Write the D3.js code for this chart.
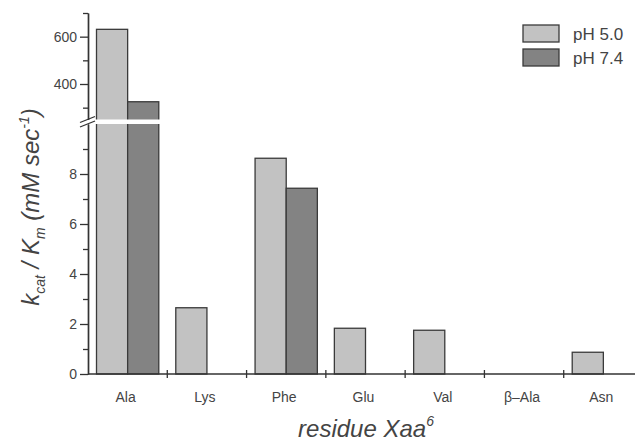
<!DOCTYPE html>
<html>
<head>
<meta charset="utf-8">
<script src="https://cdn.jsdelivr.net/npm/d3@7"></script>
<style>
  body { margin: 0; background: #fff; }
  text { font-family: "Liberation Sans", Arial, sans-serif; fill: #444; }
</style>
</head>
<body>
<script>
// data
var residues = ["Ala", "Lys", "Phe", "Glu", "Val", "\u03B2\u2013Ala", "Asn"];
var seriesNames = ["pH 5.0", "pH 7.4"];
var ph50 = [631, 2.65, 8.63, 1.83, 1.75, 0, 0.87];
var ph74 = [325, 0, 7.43, 0, 0, 0, 0];
var lowTicks = [0, 2, 4, 6, 8];
var lowMinor = [1, 3, 5, 7, 9];
var highTicks = [400, 600];
var highMinor = [300, 500, 700];

var colors = ["#c2c2c2", "#838383"];
var W = 635, H = 443;

var svg = d3.select("body").append("svg").attr("width", W).attr("height", H);

// scales, the y axis is broken between 10 and 250
var x0 = d3.scaleBand().domain(residues).range([88, 643]);
var x1 = d3.scaleBand().domain(seriesNames).range([8.5, x0.bandwidth() - 8.5]);
var yLow = d3.scaleLinear().domain([0, 10]).range([374, 124]);
var yHigh = d3.scaleLinear().domain([250, 700]).range([119.5, 13]);
function yv(v){ return v > 10 ? yHigh(v) : yLow(v); }

var rows = [];
residues.forEach(function(r, i){
	[ph50[i], ph74[i]].forEach(function(v, j){
		if (v > 0) rows.push({res: r, s: seriesNames[j], v: v, c: colors[j]});
	});
});

svg.selectAll(".bar").data(rows).enter().append("rect")
	.attr("class", "bar")
	.attr("x", function(d){ return x0(d.res) + x1(d.s); })
	.attr("width", x1.bandwidth())
	.attr("y", function(d){ return yv(d.v); })
	.attr("height", function(d){ return yLow(0) - yv(d.v); })
	.attr("fill", function(d){ return d.c; })
	.attr("stroke", "#3a3a3a")
	.attr("stroke-width", 1.3);

// white gap of the break
svg.append("rect").attr("x", 70).attr("width", 110)
	.attr("y", yHigh(250)).attr("height", yLow(10) - yHigh(250))
	.attr("fill", "#fff");

// y axis
function styleAxis(g){
	g.selectAll("path").attr("stroke", "#333").attr("stroke-width", 1.4);
	g.selectAll("line").attr("stroke", "#333").attr("stroke-width", 1.3);
	g.selectAll("text").attr("font-size", 14).attr("fill", "#555")
		.attr("font-family", "Liberation Sans, Arial, sans-serif");
}
var gl = svg.append("g").attr("transform", "translate(88,0)")
	.call(d3.axisLeft(yLow).tickValues(lowTicks).tickSize(8).tickSizeOuter(0).tickPadding(3));
styleAxis(gl);
var glm = svg.append("g").attr("transform", "translate(88,0)")
	.call(d3.axisLeft(yLow).tickValues(lowMinor).tickSize(5).tickSizeOuter(0).tickFormat(""));
styleAxis(glm);
var gh = svg.append("g").attr("transform", "translate(88,0)")
	.call(d3.axisLeft(yHigh).tickValues(highTicks).tickSize(8).tickSizeOuter(0).tickPadding(3));
styleAxis(gh);
var ghm = svg.append("g").attr("transform", "translate(88,0)")
	.call(d3.axisLeft(yHigh).tickValues(highMinor).tickSize(5).tickSizeOuter(0).tickFormat(""));
styleAxis(ghm);

// break marks
[yHigh(250), yLow(10)].forEach(function(yy){
	svg.append("line").attr("x1", 80).attr("x2", 95)
		.attr("y1", yy + 3).attr("y2", yy - 3)
		.attr("stroke", "#333").attr("stroke-width", 1.3);
});

// x axis
var xa = svg.append("g").attr("transform", "translate(0," + yLow(0) + ")");
xa.append("line").attr("x1", 88).attr("x2", 643).attr("stroke", "#333").attr("stroke-width", 1.4);
xa.selectAll(".xt").data(residues.slice(1)).enter().append("line")
	.attr("x1", function(d){ return x0(d); }).attr("x2", function(d){ return x0(d); })
	.attr("y1", -4).attr("y2", 4).attr("stroke", "#333").attr("stroke-width", 1.3);
xa.selectAll(".xl").data(residues).enter().append("text")
	.attr("x", function(d){ return x0(d) + x0.bandwidth() / 2 - 2; })
	.attr("y", 28).attr("text-anchor", "middle").attr("font-size", 14).attr("fill", "#555")
	.text(function(d){ return d; });

// axis titles
var xt = svg.append("text").attr("x", 366).attr("y", 437).attr("text-anchor", "middle")
	.attr("font-size", 24).attr("font-style", "italic").attr("fill", "#333");
xt.append("tspan").text("residue Xaa");
xt.append("tspan").attr("font-size", 14).attr("dy", -11).text("6");

var yt = svg.append("text").attr("transform", "translate(39,207) rotate(-90)")
	.attr("text-anchor", "middle").attr("font-size", 24).attr("font-style", "italic").attr("fill", "#333");
yt.append("tspan").text("k");
yt.append("tspan").attr("font-size", 14).attr("dy", 6).text("cat");
yt.append("tspan").attr("dy", -6).text(" / K");
yt.append("tspan").attr("font-size", 14).attr("dy", 6).text("m");
yt.append("tspan").attr("dy", -6).text(" (mM sec");
yt.append("tspan").attr("font-size", 14).attr("dy", -10).text("-1");
yt.append("tspan").attr("dy", 10).text(")");

// legend
var lg = svg.selectAll(".lg").data(seriesNames).enter().append("g")
	.attr("transform", function(d, i){ return "translate(523," + (25 + i * 24) + ")"; });
lg.append("rect").attr("width", 36).attr("height", 17)
	.attr("fill", function(d, i){ return colors[i]; })
	.attr("stroke", "#3a3a3a").attr("stroke-width", 1.3);
lg.append("text").attr("x", 50).attr("y", 15).attr("font-size", 17).attr("fill", "#444")
	.text(function(d){ return d; });
</script>
</body>
</html>
